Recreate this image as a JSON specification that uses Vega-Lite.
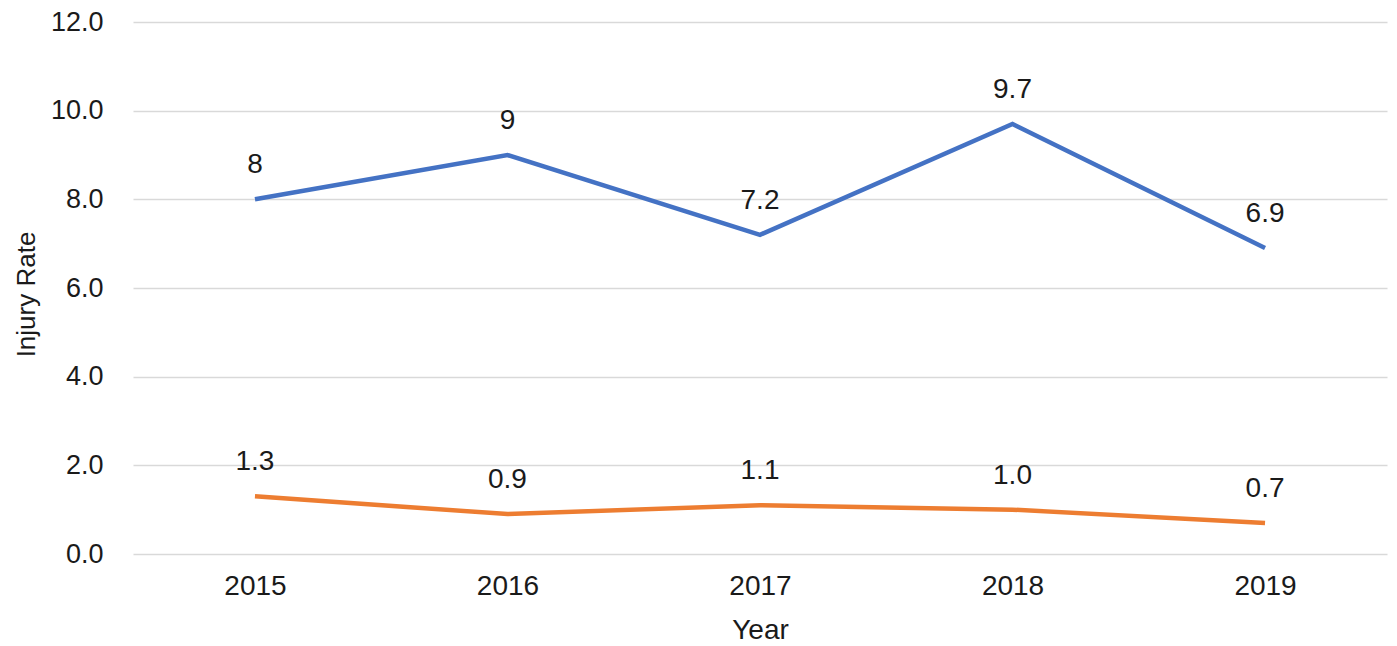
{
  "$schema": "https://vega.github.io/schema/vega-lite/v6.json",
  "autosize": {"type": "none"},
  "width": 1254,
  "height": 532,
  "padding": {"left": 133, "top": 22, "right": 10, "bottom": 92},
  "background": "white",
  "config": {
    "view": {"stroke": null},
    "font": "Liberation Sans",
    "axis": {"labelFont": "Liberation Sans", "titleFont": "Liberation Sans", "labelColor": "#1a1a1a", "titleColor": "#1a1a1a", "titleFontWeight": "normal"}
  },
  "data": {
    "values": [
      {"Year": "2015", "series": "A", "rate": 8, "label": "8"},
      {"Year": "2016", "series": "A", "rate": 9, "label": "9"},
      {"Year": "2017", "series": "A", "rate": 7.2, "label": "7.2"},
      {"Year": "2018", "series": "A", "rate": 9.7, "label": "9.7"},
      {"Year": "2019", "series": "A", "rate": 6.9, "label": "6.9"},
      {"Year": "2015", "series": "B", "rate": 1.3, "label": "1.3"},
      {"Year": "2016", "series": "B", "rate": 0.9, "label": "0.9"},
      {"Year": "2017", "series": "B", "rate": 1.1, "label": "1.1"},
      {"Year": "2018", "series": "B", "rate": 1.0, "label": "1.0"},
      {"Year": "2019", "series": "B", "rate": 0.7, "label": "0.7"}
    ]
  },
  "encoding": {
    "x": {
      "field": "Year", "type": "ordinal",
      "scale": {"type": "point", "padding": 0.483},
      "axis": {"labelAngle": 0, "labelFontSize": 28, "labelPadding": 18, "ticks": false, "domain": false, "grid": false,
               "title": "Year", "titleFontSize": 28, "titleY": 76, "titleBaseline": "middle"}
    },
    "y": {
      "field": "rate", "type": "quantitative",
      "scale": {"domain": [0, 12]},
      "axis": {"values": [0, 2, 4, 6, 8, 10, 12], "format": ".1f", "labelFontSize": 27, "labelPadding": 30, "ticks": false, "domain": false,
               "grid": true, "gridColor": "#d9d9d9", "gridWidth": 1.5,
               "title": "Injury Rate", "titleFontSize": 26, "titleX": -107, "titleY": 272, "titleBaseline": "middle", "titleAlign": "center", "titleAngle": -90}
    },
    "color": {
      "field": "series", "type": "nominal",
      "scale": {"domain": ["A", "B"], "range": ["#4472C4", "#ED7D31"]},
      "legend": null
    }
  },
  "layer": [
    {"mark": {"type": "line", "strokeWidth": 4.5}},
    {"mark": {"type": "text", "dy": -34, "fontSize": 28, "color": "#1a1a1a", "baseline": "middle"},
     "encoding": {"text": {"field": "label"}, "color": {"value": "#1a1a1a"}}}
  ]
}
